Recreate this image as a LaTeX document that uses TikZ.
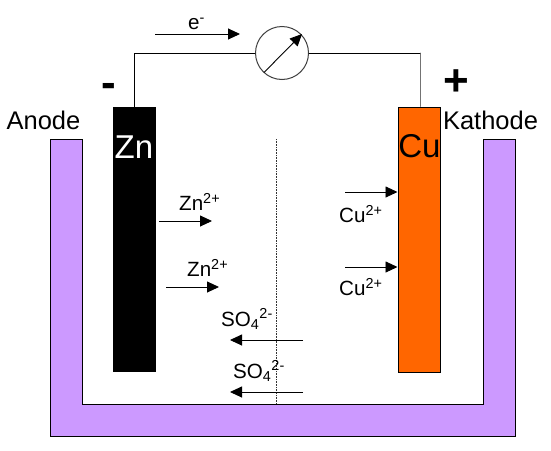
\documentclass[tikz,border=0pt]{standalone}
\usepackage{fontspec}
\setmainfont{Liberation Sans}
\usetikzlibrary{arrows.meta}
\tikzset{
  wire/.style={line width=0.9pt,line cap=round},
  flow/.style={line width=0.9pt,-{Triangle[length=12pt,width=11pt]}},
  lbl/.style={inner sep=0pt,font=\fontsize{20.6}{24}\selectfont,text=black,anchor=west},
  big/.style={inner sep=0pt,font=\fontsize{33}{36}\selectfont,anchor=center},
  side/.style={inner sep=0pt,font=\fontsize{25.5}{28}\selectfont,anchor=center},
  sign/.style={inner sep=0pt,font=\bfseries\fontsize{44}{48}\selectfont,anchor=center}
}
\definecolor{vessel}{RGB}{204,153,255}
\definecolor{copper}{RGB}{255,102,0}
\begin{document}
\begin{tikzpicture}[x=1pt,y=-1pt]
\useasboundingbox (0,0) rectangle (551,450);
\draw[fill=vessel,line width=1pt] (50,139) -- (82,139) -- (82,404) -- (483,404) -- (483,139) -- (515,139) -- (515,436) -- (50,436) -- cycle;
\node[draw=black,fill=black,minimum width=42pt,minimum height=264pt,inner sep=0pt,line width=0.5pt] (zn) at (134.5,239.5) {};
\node[draw=black,fill=copper,minimum width=42pt,minimum height=265pt,inner sep=0pt,line width=1pt] (cu) at (419,239.5) {};
\node[big,text=white] (zntext) at (134,147) {Zn};
\node[big] (cutext) at (419.5,146) {Cu};
\node[draw=black!75,fill=white,circle,minimum size=53pt,inner sep=0pt,line width=1pt] (meter) at (282,53) {};
\coordinate (zntop) at (134,107);
\coordinate (cutop) at (420,107);
\draw[wire] (zn.north -| zntop) |- (meter.west);
\draw[wire,black!55] (cu.north -| cutop) -- (cutop |- meter.east);
\draw[wire] (meter.east) -- (cutop |- meter.east);
\coordinate (ma) at (264,72.5);
\coordinate (mb) at (302,34);
\draw[flow] (ma) -- (mb);
\coordinate (ea) at (155,34);
\coordinate (eb) at (240,34);
\draw[flow] (ea) -- (eb);
\node[lbl] (etext) at (188,24) {e\textsuperscript{-}};
\coordinate (da) at (276.5,139);
\coordinate (db) at (276.5,404);
\draw[line width=0.6pt,densely dotted,black!80] (da) -- (db);
\node[sign] (minus) at (109,90) {-};
\node[sign] (plus) at (456,83) {+};
\node[side] (anode) at (43.5,120) {Anode};
\node[side] (kathode) at (490.5,120) {Kathode};
\coordinate (z1a) at (159,221); \coordinate (z1b) at (212,221);
\coordinate (z2a) at (166,287); \coordinate (z2b) at (219,287);
\draw[flow] (z1a) -- (z1b);
\draw[flow] (z2a) -- (z2b);
\node[lbl] (z1t) at (179,202) {Zn\textsuperscript{2+}};
\node[lbl] (z2t) at (187,268) {Zn\textsuperscript{2+}};
\coordinate (s1a) at (303,340); \coordinate (s1b) at (230,340);
\coordinate (s2a) at (303,392); \coordinate (s2b) at (230,392);
\draw[flow] (s1a) -- (s1b);
\draw[flow] (s2a) -- (s2b);
\node[lbl] (s1t) at (221,319) {SO\textsubscript{4}\textsuperscript{2-}};
\node[lbl] (s2t) at (233,371) {SO\textsubscript{4}\textsuperscript{2-}};
\coordinate (c1a) at (345,192); \coordinate (c1b) at (cu.west |- c1a);
\coordinate (c2a) at (345,267); \coordinate (c2b) at (cu.west |- c2a);
\draw[flow] (c1a) -- (c1b);
\draw[flow] (c2a) -- (c2b);
\node[lbl] (c1t) at (339,214) {Cu\textsuperscript{2+}};
\node[lbl] (c2t) at (339,287) {Cu\textsuperscript{2+}};
\end{tikzpicture}
\end{document}
